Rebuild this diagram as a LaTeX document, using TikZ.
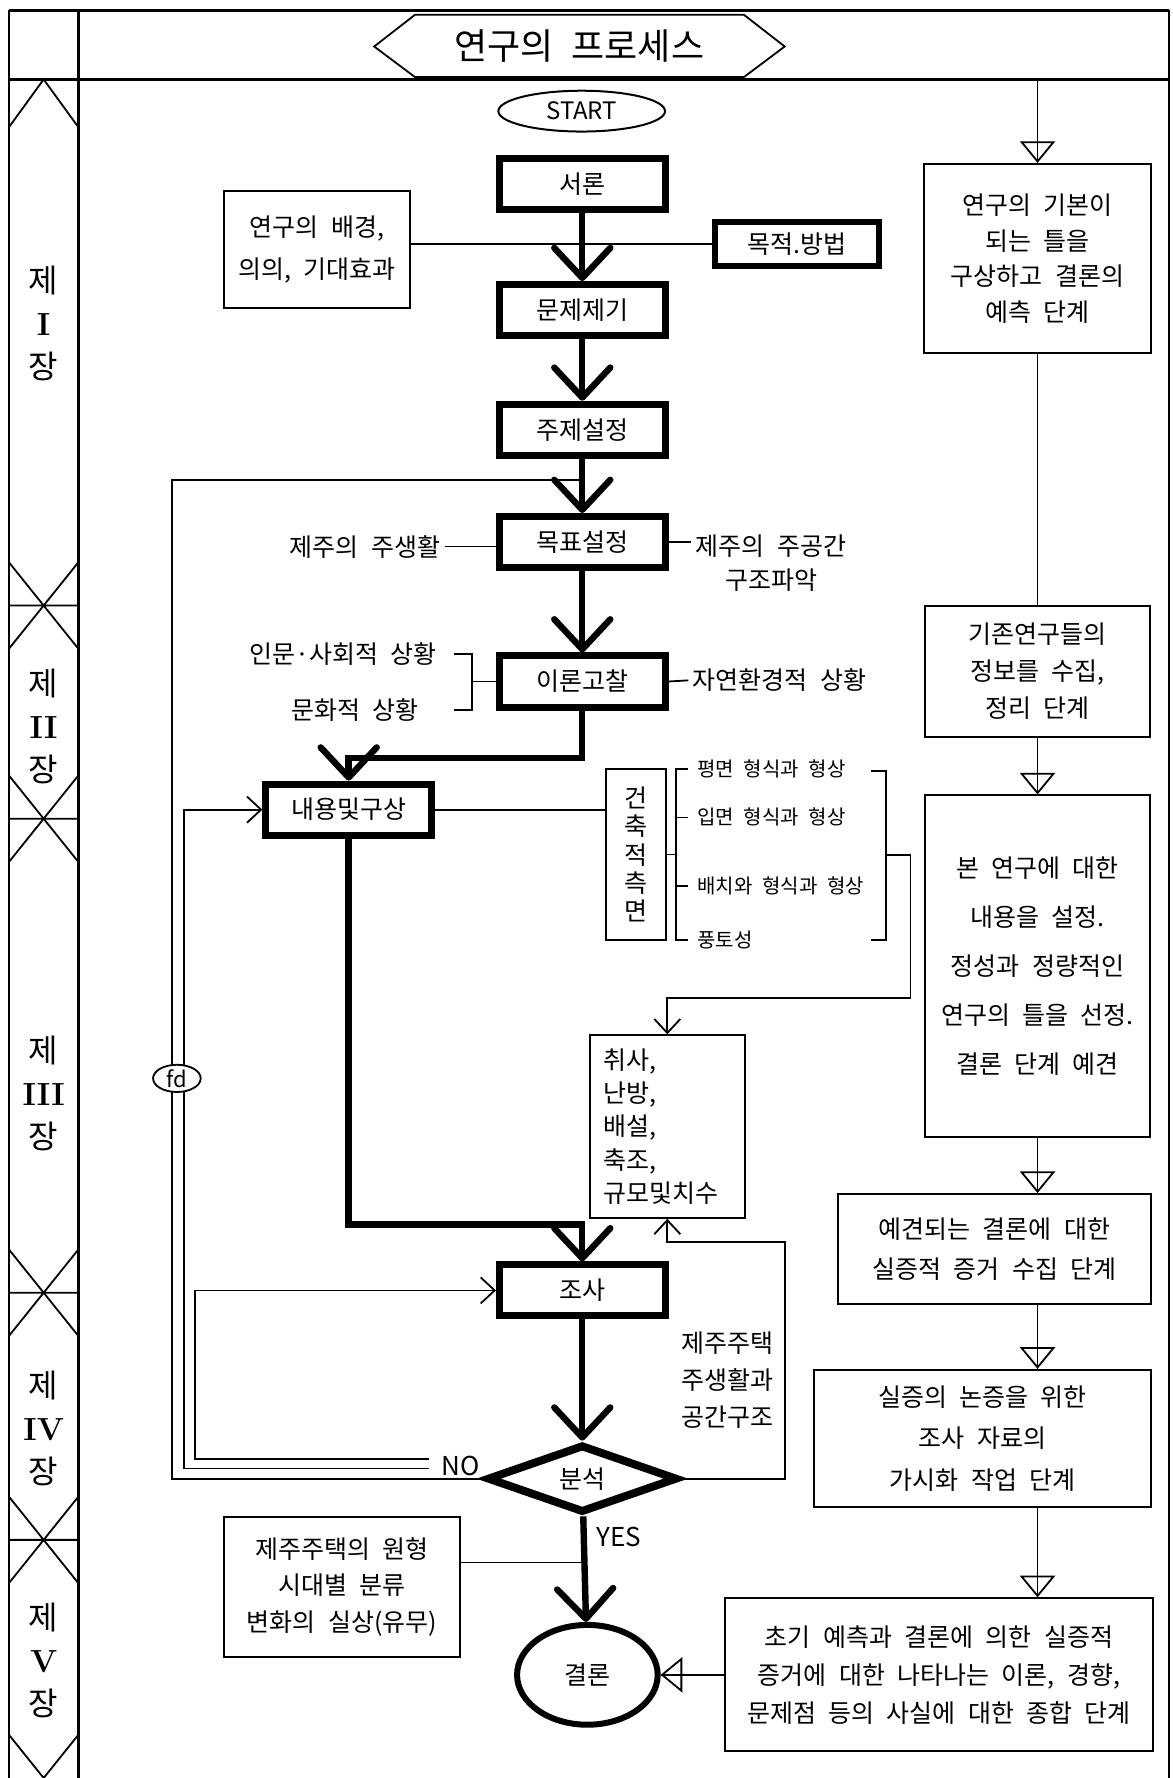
\documentclass[tikz,border=0pt]{standalone}
\usepackage{fontspec}
\newfontfamily\kr[WordSpace=2.2]{Noto Sans CJK KR}
\usetikzlibrary{arrows.meta,shapes.geometric,calc}
\def\U{0.56675pt}
\newcommand\rnum[1]{{\rmfamily\bfseries\fontsize{16}{21.5}\selectfont #1}}
\begin{document}
\begin{tikzpicture}[x=0.56675pt,y=-0.56675pt,
  every node/.style={font=\kr\fontsize{12.5}{15}\selectfont, inner sep=0pt},
  frame/.style={line width=1.4pt},
  thinl/.style={line width=0.9pt},
  mainbox/.style={draw, line width=3.5pt, minimum width=146*\U, minimum height=45*\U},
  sidebox/.style={draw, line width=1pt, align=center},
  lbl/.style={inner sep=2pt},
  itemtxt/.style={inner sep=2pt, anchor=west, font=\kr\fontsize{10}{12}\selectfont},
  chap/.style={align=center, font=\kr\fontsize{16}{21.5}\selectfont},
  flow/.style={line width=3.2pt, -{Straight Barb[length=15pt,width=28pt,round]}},
  thinarrow/.style={line width=0.9pt, -{Straight Barb[length=7pt,width=13pt]}},
  tri/.style={line width=0.9pt, -{Triangle[open,length=10.8pt,width=17.6pt]}},
]
\fill[white] (0,0) rectangle (1034,1568);
\useasboundingbox (0,0) rectangle (1034,1568);

% ---------- frame ----------
\draw[frame] (8,9) -- (1031,9);
\draw[frame] (8,70) -- (1031,70);
\draw[frame] (8,9) -- (8,1568);
\draw[frame] (69,9) -- (69,1568);
\draw[frame] (1031,9) -- (1031,1568);

% left chapter column
\draw[thinl] (8,112) -- (38.5,70) -- (69,112);
\foreach \c in {534,722,1140,1358}{
  \draw[thinl] (8,\c-38) -- (69,\c+38) (69,\c-38) -- (8,\c+38) (8,\c) -- (69,\c);
}
\draw[thinl] (8,1530) -- (38.5,1568) -- (69,1530);
\node[chap] (ch1) at (38.5,285) {제\\\rnum{I}\\장};
\node[chap] (ch2) at (38.5,641) {제\\\rnum{II}\\장};
\node[chap] (ch3) at (38.5,964) {제\\\rnum{III}\\장};
\node[chap] (ch4) at (38.5,1260) {제\\\rnum{IV}\\장};
\node[chap] (ch5) at (38.5,1464) {제\\\rnum{V}\\장};

% header
\node[font=\kr\fontsize{18}{20}\selectfont] (title) at (511,41) {연구의 프로세스};
\draw[thinl] (330,41) -- (366,13) -- (656,13) -- (692,41) -- (656,68) -- (366,68) -- cycle;

% ---------- main column ----------
\node[draw, ellipse, line width=1pt, minimum width=147*\U, minimum height=36*\U,
      font=\kr\fontsize{12}{14}\selectfont] (start) at (513,98) {START};
\node[mainbox] (seoron) at (513.5,162) {서론};
\node[mainbox] (munje) at (513.5,273.5) {문제제기};
\node[mainbox] (juje) at (513.5,379) {주제설정};
\node[mainbox] (mokpyo) at (513.5,478) {목표설정};
\node[mainbox] (iron) at (513.5,601) {이론고찰};
\node[mainbox] (naeyong) at (307.5,714) {내용및구상};
\node[mainbox] (josa) at (513.5,1138) {조사};
\node[draw, diamond, line width=4pt, aspect=2.6, minimum width=168*\U, minimum height=60*\U] (bunseok) at (513.5,1304) {분석};
\node[draw, ellipse, line width=3pt, minimum width=124*\U, minimum height=88*\U] (gyeolron) at (518,1477) {결론};

\draw[flow] (seoron) -- (munje);
\draw[flow] (munje) -- (juje);
\draw[flow] (juje) -- (mokpyo);
\draw[flow] (mokpyo) -- (iron);
\draw[flow] (iron.south) -- ++(0,42) -| (naeyong.north);
\draw[flow] (naeyong.south) -- (naeyong.south |- 0,1080) -| (josa.north);
\draw[flow] (josa) -- (bunseok);
\draw[flow] (bunseok) -- (gyeolron);

% side boxes near top
\node[sidebox, minimum width=164*\U, minimum height=103*\U,
      font=\kr\fontsize{12.5}{21}\selectfont] (bg) at (279.5,220) {연구의 배경,\\의의, 기대효과};
\node[mainbox, minimum width=145*\U, minimum height=39*\U, line width=3pt] (mokjeok) at (703,215.5) {목적.방법};
\draw[thinl] (bg.east |- mokjeok.west) -- (mokjeok.west);

% labels around 목표설정
\node[lbl] (lb1) at (322,482) {제주의 주생활};
\node[lbl, align=center, font=\kr\fontsize{12.5}{17}\selectfont] (lb2) at (680,497) {제주의 주공간\\구조파악};
\draw[thinl] (lb1.east) -- (mokpyo.west |- lb1.east);
\draw[thinl] (mokpyo.east) -- (mokpyo.east -| lb2.west);

% labels around 이론고찰
\node[lbl, anchor=east] (lb3) at (389,577) {인문·사회적 상황};
\node[lbl, anchor=east] (lb4) at (373,626) {문화적 상황};
\node[lbl, anchor=west] (lb5) at (607,600) {자연환경적 상황};
\draw[thinl] (400,577) -- (416,577) -- (416,626) -- (400,626);
\coordinate (brL) at (416,601);
\draw[thinl] (brL) -- (iron.west);
\draw[thinl] (iron.east) -- (lb5.west);

% 건축적 측면
\node[sidebox, minimum width=53*\U, minimum height=151*\U,
      font=\kr\fontsize{12.5}{14.2}\selectfont] (geonchuk) at (560.5,753.5) {건\\축\\적\\측\\면};
\draw[thinl] (naeyong.east) -- (naeyong.east -| geonchuk.west);
\node[itemtxt] (it1) at (611,678) {평면 형식과 형상};
\node[itemtxt] (it2) at (611,720) {입면 형식과 형상};
\node[itemtxt] (it3) at (611,781) {배치와 형식과 형상};
\node[itemtxt] (it4) at (611,829) {풍토성};
\coordinate (brG) at (596,753.5);
\draw[thinl] (geonchuk.east) -- (brG);
\draw[thinl] (607,678) -- (596,678) -- (596,829) -- (607,829);
\draw[thinl] (596,721) -- (607,721) (596,781) -- (607,781);
\draw[thinl] (768,680) -- (781,680) -- (781,829) -- (768,829);
\coordinate (brR) at (781,754);

\node[sidebox, align=left, minimum height=161*\U, text width=113*\U, inner xsep=12*\U,
      font=\kr\fontsize{12.5}{16.6}\selectfont] (chwisa) at (588.5,993.5) {취사,\\난방,\\배설,\\축조,\\규모및치수};
\draw[thinarrow] (brR) -| (803,880) -| (chwisa.north);

% return from 분석
\node[align=center, font=\kr\fontsize{12.5}{18.4}\selectfont] (jjlabel) at (642,1217) {제주주택\\주생활과\\공간구조};
\draw[thinarrow] (bunseok.east) -| (692,1095) -| (chwisa.south);

% NO loops
\coordinate (noA) at (378,1287);
\coordinate (noB) at (378,1295);
\coordinate (cTop) at (513.5,423);
\node[font=\kr\fontsize{13}{15}\selectfont] (no) at (406,1293) {NO};
\draw[thinarrow] (noA) -| (172,1138) -- (josa.west);
\draw[thinarrow] (noB) -| (162,714) -- (naeyong.west);
\draw[thinl] (bunseok.west) -| (151.5,423) -- (cTop);
\node[draw, ellipse, line width=0.9pt, fill=white, minimum width=42*\U, minimum height=24*\U,
      font=\kr\fontsize{11}{12}\selectfont] (fd) at (156,951) {fd};

% YES and bottom-left box
\node[font=\kr\fontsize{13}{15}\selectfont] (yes) at (546,1355) {YES};
\node[sidebox, minimum width=208*\U, minimum height=124*\U,
      font=\kr\fontsize{12.5}{18.4}\selectfont] (jeju) at (301.5,1399.5) {제주주택의 원형\\시대별 분류\\변화의 실상(유무)};
\coordinate (yesJ) at (513.5,1378);
\draw[thinl] (jeju.east |- yesJ) -- (yesJ);

% ---------- right column ----------
\node[sidebox, minimum width=200*\U, minimum height=167*\U,
      font=\kr\fontsize{12.5}{17.8}\selectfont] (R1) at (915,228) {연구의 기본이\\되는 틀을\\구상하고 결론의\\예측 단계};
\node[sidebox, minimum width=198*\U, minimum height=115*\U,
      font=\kr\fontsize{12.5}{18.4}\selectfont] (R2) at (915,592) {기존연구들의\\정보를 수집,\\정리 단계};
\node[sidebox, minimum width=198*\U, minimum height=301*\U,
      font=\kr\fontsize{12.5}{24.4}\selectfont] (R3) at (915,852) {본 연구에 대한\\내용을 설정.\\정성과 정량적인\\연구의 틀을 선정.\\결론 단계 예견};
\node[sidebox, minimum width=276*\U, minimum height=97*\U,
      font=\kr\fontsize{12.5}{19.8}\selectfont] (R4) at (877,1101.5) {예견되는 결론에 대한\\실증적 증거 수집 단계};
\node[sidebox, minimum width=297*\U, minimum height=121*\U,
      font=\kr\fontsize{12.5}{20.7}\selectfont] (R5) at (866.5,1268.5) {실증의 논증을 위한\\조사 자료의\\가시화 작업 단계};
\node[sidebox, minimum width=378*\U, minimum height=135*\U,
      font=\kr\fontsize{12.5}{19}\selectfont] (R6) at (828,1477) {초기 예측과 결론에 의한 실증적\\증거에 대한 나타나는 이론, 경향,\\문제점 등의 사실에 대한 종합 단계};

\coordinate (rtop) at (915,70);
\draw[thinl] (rtop) -- (R1.north);
\draw[tri] (rtop) -- (R1.north);
\draw[thinl] (R1) -- (R2);
\draw[thinl] (R2) -- (R3);
\draw[tri] (R2) -- (R3);
\draw[thinl] (R3.south) -- (R3.south |- R4.north);
\draw[tri] (R3.south) -- (R3.south |- R4.north);
\draw[thinl] (R4.south -| R3.south) -- (R5.north -| R3.south);
\draw[tri] (R4.south -| R3.south) -- (R5.north -| R3.south);
\draw[thinl] (R5.south -| R3.south) -- (R6.north -| R3.south);
\draw[tri] (R5.south -| R3.south) -- (R6.north -| R3.south);
\draw[thinl] (R6.west) -- (gyeolron.east);
\draw[tri] (R6.west) -- (gyeolron.east);
\end{tikzpicture}
\end{document}
